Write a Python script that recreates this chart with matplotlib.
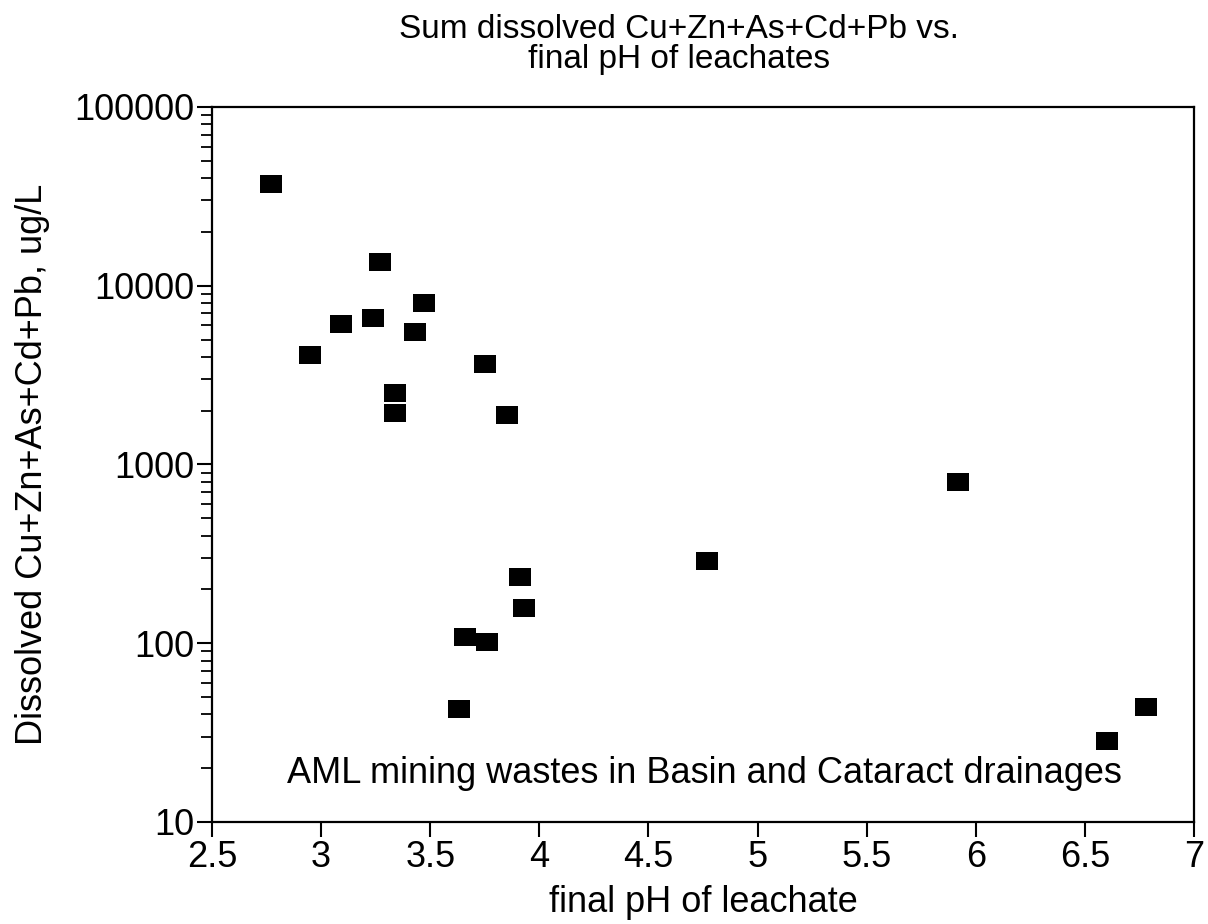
import numpy as np
import matplotlib.pyplot as plt
from matplotlib.ticker import FixedLocator, FuncFormatter, LogLocator, NullFormatter

plt.rcParams['font.family'] = ['Liberation Sans', 'DejaVu Sans']

# final pH of leachate and summed dissolved metals (ug/L)
ph = [2.77, 2.95, 3.09, 3.24, 3.27, 3.34, 3.34, 3.43, 3.47, 3.75, 3.85,
      3.63, 3.66, 3.76, 3.91, 3.93, 4.77, 5.92, 6.60, 6.78]
metals = [37000, 4100, 6100, 6600, 13500, 2500, 1950, 5500, 8000, 3650, 1880,
          43, 108, 102, 235, 157, 288, 795, 28.5, 44]

x_ticks = [2.5, 3, 3.5, 4, 4.5, 5, 5.5, 6, 6.5, 7]
y_ticks = [10, 100, 1000, 10000, 100000]

fig = plt.figure(figsize=(12.08, 9.24), dpi=100)
ax = fig.add_axes([0.1755, 0.1104, 0.8129, 0.7738])

# slightly wide rectangle marker
rect = [(-1.25, -1), (1.25, -1), (1.25, 1), (-1.25, 1), (-1.25, -1)]
ax.scatter(ph, metals, marker=rect, s=250, color='black', linewidths=0, zorder=3)

ax.set_yscale('log')
ax.set_xlim(2.5, 7)
ax.set_ylim(10, 100000)

ax.xaxis.set_major_locator(FixedLocator(x_ticks))
ax.xaxis.set_major_formatter(FuncFormatter(lambda v, p: '%g' % v))
ax.yaxis.set_major_locator(FixedLocator(y_ticks))
ax.yaxis.set_major_formatter(FuncFormatter(lambda v, p: '%d' % v))
ax.yaxis.set_minor_locator(LogLocator(base=10, subs=np.arange(2, 10)))
ax.yaxis.set_minor_formatter(NullFormatter())

ax.tick_params(axis='both', which='major', direction='out', length=11, width=1.5,
               labelsize=26, pad=2, top=False, right=False)
ax.tick_params(axis='y', which='minor', direction='out', length=8, width=1.3)
for s in ax.spines.values():
    s.set_linewidth(1.6)

ax.set_xlabel('final pH of leachate', fontsize=26, labelpad=7)
ax.set_ylabel('Dissolved Cu+Zn+As+Cd+Pb, ug/L', fontsize=26, labelpad=17)

fig.text(0.562, 0.985, 'Sum dissolved Cu+Zn+As+Cd+Pb vs.\nfinal pH of leachates',
         ha='center', va='top', fontsize=24, linespacing=0.98)

ax.text(4.755, 18.6, 'AML mining wastes in Basin and Cataract drainages',
        ha='center', va='center', fontsize=26)

fig.savefig('out.png', dpi=100)
